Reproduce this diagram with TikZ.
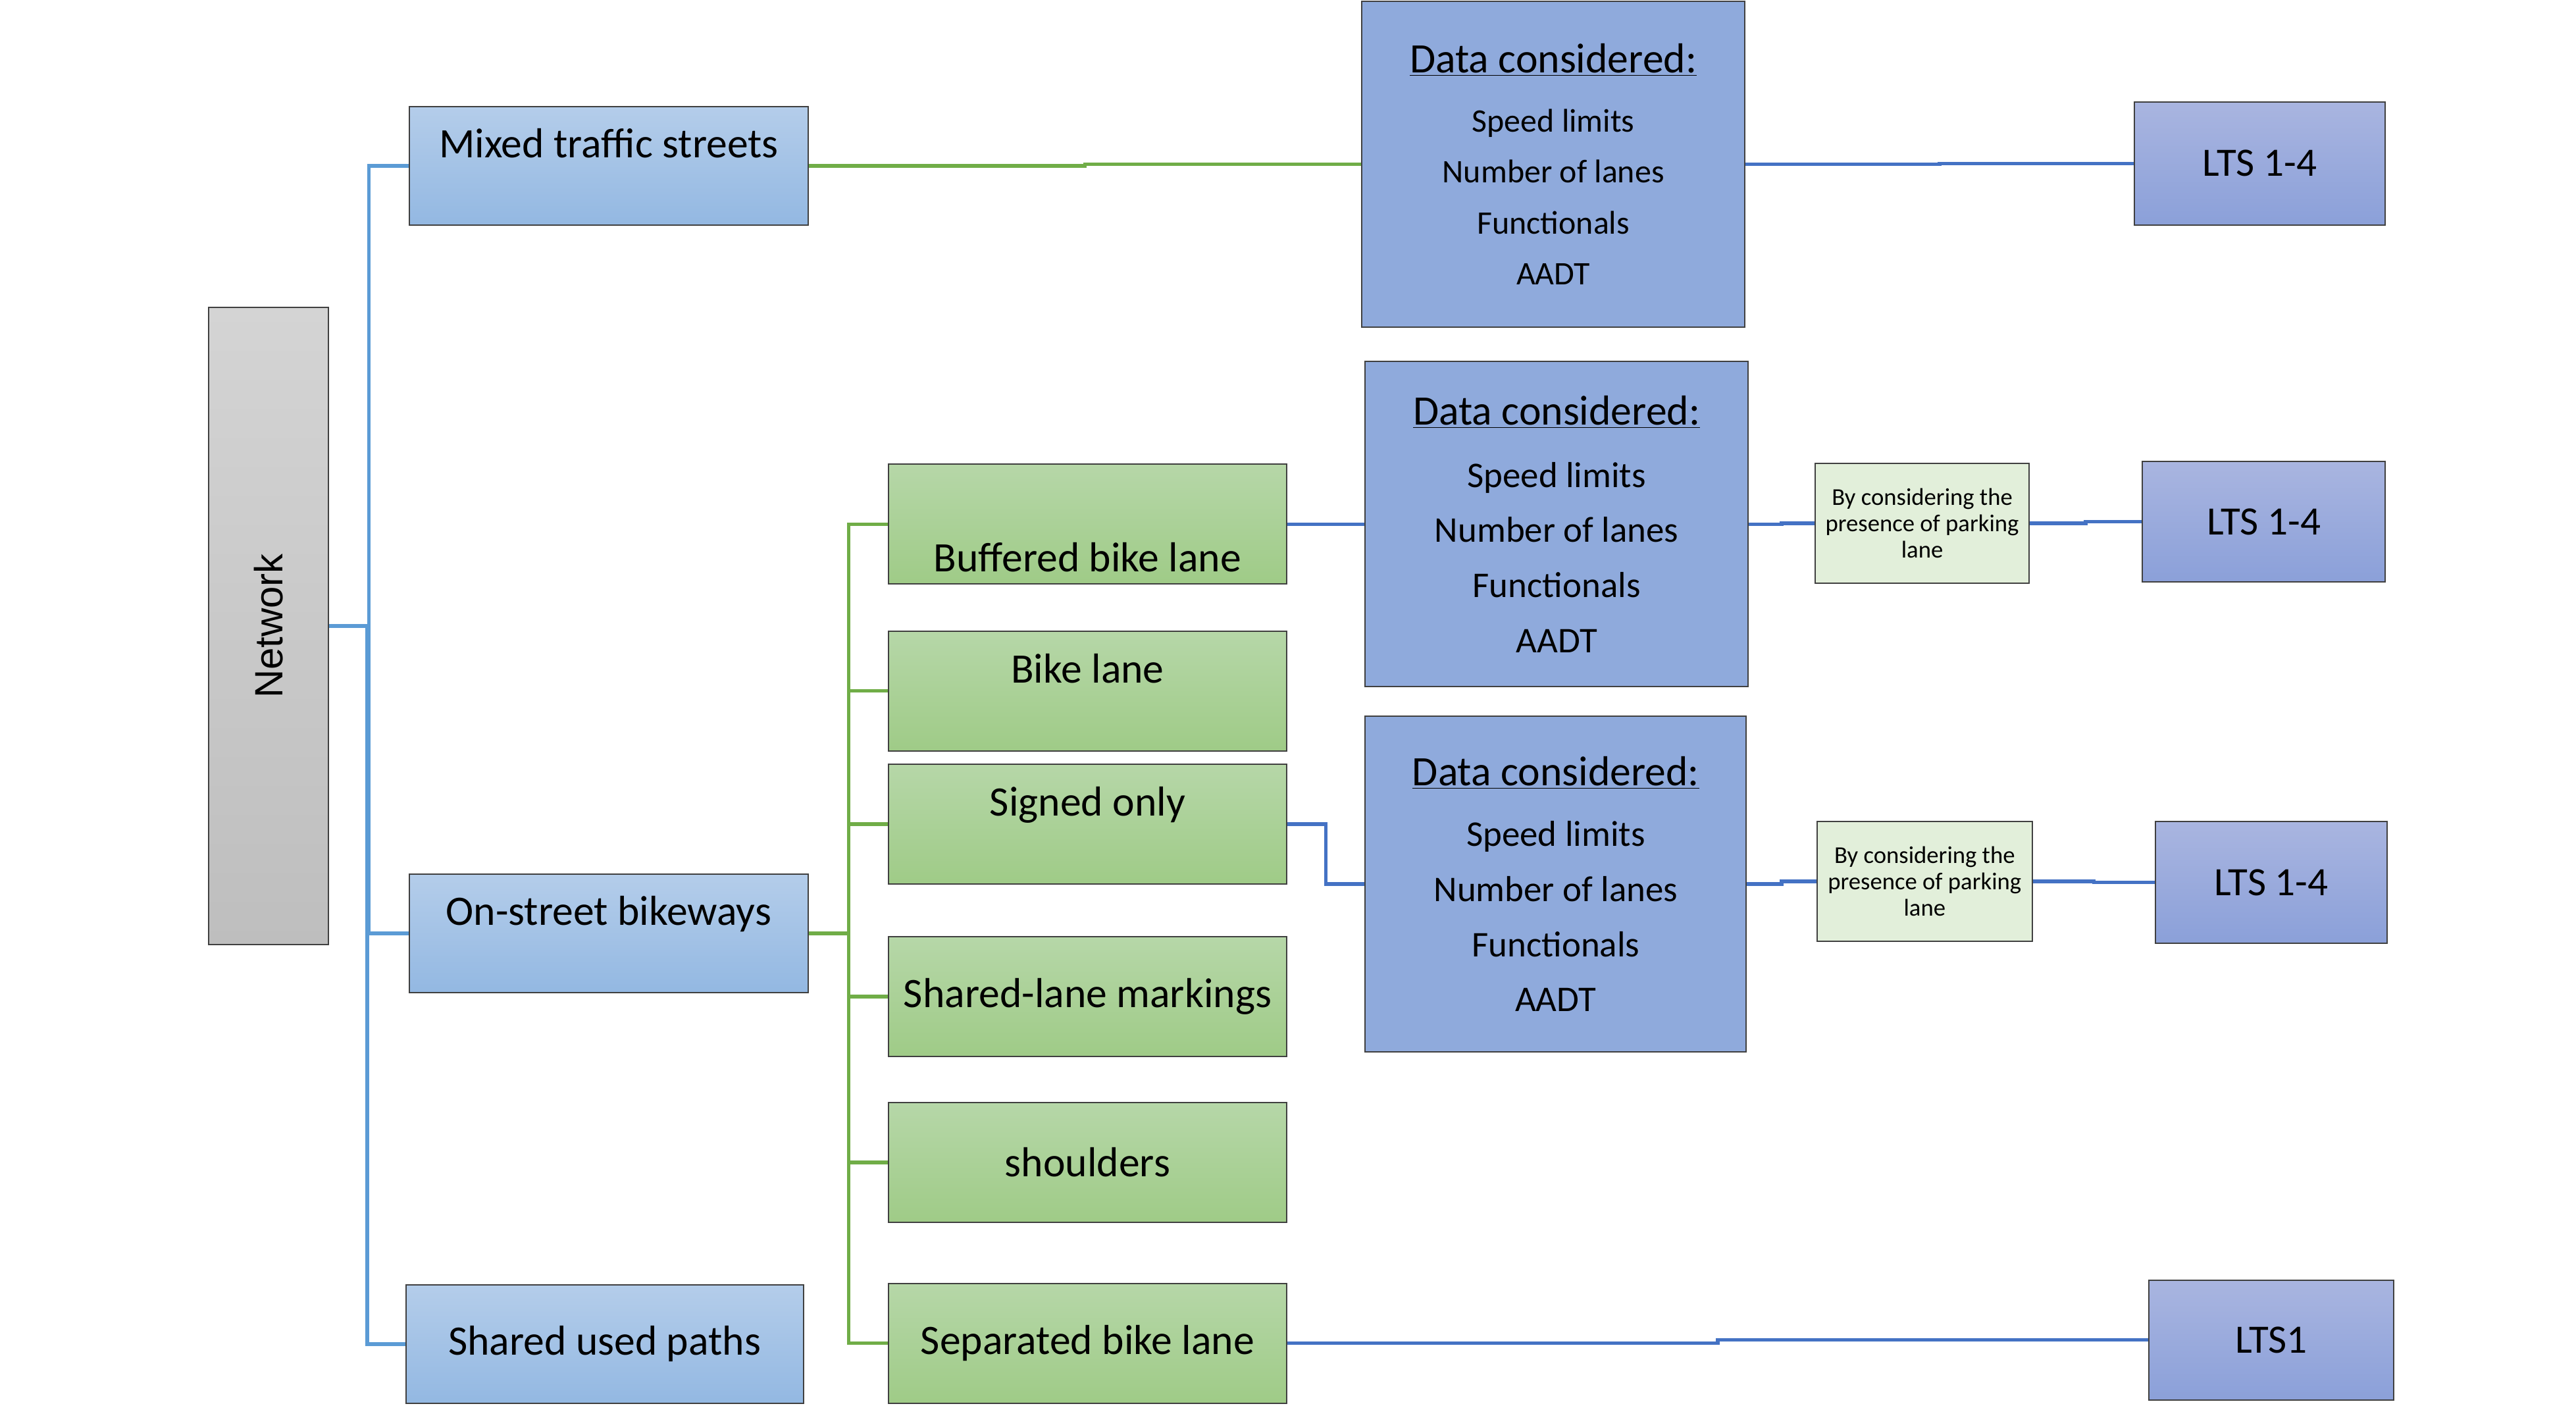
\documentclass[tikz,border=0pt]{standalone}
\usepackage{fontspec}
\setmainfont{Carlito}
\newfontfamily\netfont{Liberation Sans}
\usetikzlibrary{calc}

\definecolor{trunkblue}{HTML}{5B9BD5}
\definecolor{linkblue}{HTML}{4472C4}
\definecolor{twiggreen}{HTML}{70AD47}
\definecolor{databg}{HTML}{8FAADC}
\definecolor{parkbg}{HTML}{E2EFDA}
\definecolor{streettop}{RGB}{180,205,234}
\definecolor{streetbot}{RGB}{147,184,226}
\definecolor{lanetop}{RGB}{182,215,168}
\definecolor{lanebot}{RGB}{159,203,135}
\definecolor{ltstop}{RGB}{169,181,224}
\definecolor{ltsbot}{RGB}{139,160,217}
\definecolor{nettop}{RGB}{212,212,212}
\definecolor{netbot}{RGB}{190,190,190}

\tikzset{
    box/.style={draw=black!75, line width=0.8pt, inner sep=0pt, align=center,
        font=\fontsize{25.5}{30}\selectfont},
    streetbox/.style={box, top color=streettop, bottom color=streetbot,
        minimum width=243pt, minimum height=72pt},
    lanebox/.style={box, top color=lanetop, bottom color=lanebot,
        minimum width=242pt, minimum height=73pt},
    databox/.style={box, fill=databg, minimum width=233pt, minimum height=198pt},
    parkbox/.style={box, fill=parkbg, minimum width=131pt, minimum height=73pt,
        font=\fontsize{14.7}{16}\selectfont},
    ltsbox/.style={box, top color=ltstop, bottom color=ltsbot,
        minimum height=74pt, font=\fontsize{24.5}{30}\selectfont},
    toptext/.style={text height=20pt, text depth=30pt},
    bottomtext/.style={text height=60pt, text depth=2pt},
    elbow/.style={to path={-| ($(\tikztostart)!.5!(\tikztotarget)$) |- (\tikztotarget)}},
    trunk/.style={elbow, draw=trunkblue, line width=2.2pt},
    twig/.style={elbow, draw=twiggreen, line width=2.2pt},
    link/.style={elbow, draw=linkblue, line width=2.2pt},
}

\begin{document}
\begin{tikzpicture}[x=1pt, y=-1pt]
    \useasboundingbox (0,0) rectangle (1568,855.7);
    % Network and its three kinds of facilities
    \node[box, top color=nettop, bottom color=netbot,
        minimum width=73pt, minimum height=388pt](net) at (163.5,381)
        {\rotatebox{90}{\netfont\fontsize{24}{28}\selectfont Network}};
    \node[streetbox, toptext](mixed)    at (370.5,101) {Mixed traffic streets};
    \node[streetbox, toptext](onst)     at (370.5,568) {On-street bikeways};
    \node[streetbox, minimum width=242pt](sup) at (368,818) {Shared used paths};
    % On-street bikeway types
    \node[lanebox, bottomtext](buff)    at (662,319)   {Buffered bike lane};
    \node[lanebox, toptext](bike)       at (662,420.5) {Bike lane};
    \node[lanebox, toptext](sign)       at (662,501.5) {Signed only};
    \node[lanebox](slm)                 at (662,606.5) {Shared-lane markings};
    \node[lanebox](shoul)               at (662,707.5) {shoulders};
    \node[lanebox](sep)                 at (662,817.5) {Separated bike lane};
    % Data boxes
    \node[databox, font=\fontsize{20}{31}\selectfont](data1) at (945.5,100)
        {{\fontsize{25.5}{30}\selectfont\underline{Data considered:}}\\[5pt]
         Speed limits\\ Number of lanes\\ Functionals\\ AADT};
    \node[databox, font=\fontsize{22}{33.5}\selectfont](data2) at (947.5,319)
        {{\fontsize{25.5}{30}\selectfont\underline{Data considered:}}\\[4.5pt]
         Speed limits\\ Number of lanes\\ Functionals\\ AADT};
    \node[databox, minimum width=232pt, minimum height=204pt,
        font=\fontsize{22}{33.5}\selectfont](data3) at (947,538)
        {{\fontsize{25.5}{30}\selectfont\underline{Data considered:}}\\[3.5pt]
         Speed limits\\ Number of lanes\\ Functionals\\ AADT};
    % Parking lane check
    \node[parkbox, minimum width=130pt](park1) at (1170,318.5)
        {By considering the\\ presence of parking\\ lane};
    \node[parkbox](park2) at (1171.5,536.5)
        {By considering the\\ presence of parking\\ lane};
    % Levels of traffic stress
    \node[ltsbox, minimum width=153pt, minimum height=75pt](lts1) at (1375.5,99.5) {LTS 1-4};
    \node[ltsbox, minimum width=148pt, minimum height=73pt](lts2) at (1378,317.5)  {LTS 1-4};
    \node[ltsbox, minimum width=141pt](lts3) at (1382.5,537) {LTS 1-4};
    \node[ltsbox, minimum width=149pt, minimum height=73pt](lts4) at (1382.5,815.5) {LTS1};
    % Connectors
    \path
        (net.east)
            edge [trunk] (mixed.west)
            edge [trunk] (onst.west)
            edge [trunk] (sup.west)
        (onst.east)
            edge [twig] (buff.west)
            edge [twig] (bike.west)
            edge [twig] (sign.west)
            edge [twig] (slm.west)
            edge [twig] (shoul.west)
            edge [twig] (sep.west)
        (mixed.east)
            edge [twig] (data1.west)
        (data1.east)
            edge [link] (lts1.west)
        (buff.east)
            edge [link] (data2.west)
        (data2.east)
            edge [link] (park1.west)
        (park1.east)
            edge [link] (lts2.west)
        (sign.east)
            edge [link] (data3.west)
        (data3.east)
            edge [link] (park2.west)
        (park2.east)
            edge [link] (lts3.west)
        (sep.east)
            edge [link] (lts4.west)
        ;
\end{tikzpicture}
\end{document}
